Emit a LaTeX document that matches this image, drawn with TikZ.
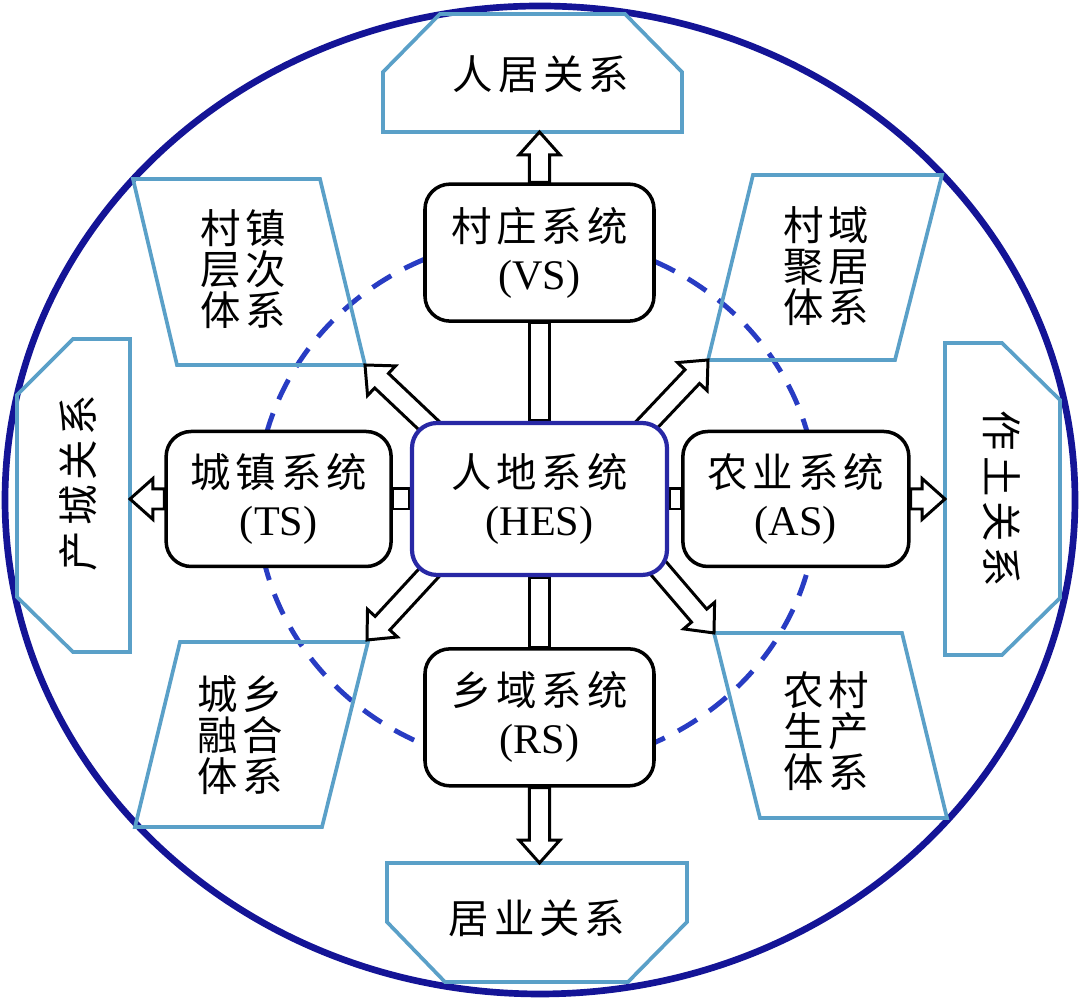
\documentclass[tikz,border=0pt]{standalone}
\usepackage{fontspec}
\setmainfont{Liberation Serif}
\newfontfamily\cjk{Noto Sans CJK SC}[LetterSpace=12]
\usetikzlibrary{positioning,calc,backgrounds}

\definecolor{ringblue}{RGB}{20,20,150}
\definecolor{dashblue}{RGB}{40,60,195}
\definecolor{hesblue}{RGB}{40,40,165}
\definecolor{relblue}{RGB}{90,160,200}

\newcommand{\zh}[1]{{\cjk\fontsize{11.5}{13.7}\selectfont #1}}
\newcommand{\blockarrow}[2]{%
	\path ($(#2)!6.5pt!(#1)$) coordinate (arrhead);
	\draw[blockarr] ($(#1)!2.85pt!90:(#2)$) -- ($(arrhead)!2.85pt!90:(#2)$) -- ($(arrhead)!5.8pt!90:(#2)$) -- (#2)
		-- ($(arrhead)!5.8pt!-90:(#2)$) -- ($(arrhead)!2.85pt!-90:(#2)$) -- ($(#1)!2.85pt!-90:(#2)$) -- cycle;}
\newcommand{\linkbar}[2]{%
	\draw[blockarr] ($(#1)!2.85pt!90:(#2)$) -- ($(#2)!2.85pt!-90:(#1)$) -- ($(#2)!2.85pt!90:(#1)$) -- ($(#1)!2.85pt!-90:(#2)$) -- cycle;}

\begin{document}
\begin{tikzpicture}[x=0.1mm, y=-0.1mm,
	sysbox/.style={draw, fill=white, rounded corners=2.5mm, line width=1pt, minimum width=22.9mm, minimum height=13.7mm, inner sep=0pt, align=center, font=\fontsize{12}{13.7}\selectfont},
	relbox/.style={draw=relblue, line width=1.05pt},
	reltext/.style={font=\cjk\fontsize{11.5}{11.7}\selectfont, align=center, inner sep=0pt},
	blockarr/.style={draw, fill=white, line width=0.85pt}]
	\useasboundingbox (0,0) rectangle (1080,999);
	
	\node[sysbox, draw=hesblue, line width=1.2pt, minimum width=25.5mm, minimum height=15.2mm] (hes) at (539.5,499) {\zh{人地系统}\\(HES)};
	\node[sysbox, above=9.8mm of hes] (village) {\zh{村庄系统}\\(VS)};
	\node[sysbox, below=7mm of hes] (rural) {\zh{乡域系统}\\(RS)};
	\node[sysbox, left=1.7mm of hes, minimum width=22.5mm, minimum height=13.5mm] (town) {\zh{城镇系统}\\(TS)};
	\node[sysbox, right=1.2mm of hes, minimum width=22.6mm, minimum height=13.5mm] (farm) {\zh{农业系统}\\(AS)};
	
	\node[reltext] (renju) at (541,74) {人居关系};
	\node[reltext] (juye) at (537,918) {居业关系};
	\node[reltext, rotate=90] (chancheng) at (78,483) {产城关系};
	\node[reltext, rotate=-90] (zuotu) at (1002,499) {作土关系};
	\node[reltext] (cunzhen) at (243,269) {村镇\\层次\\体系};
	\node[reltext] (cunyu) at (826,266) {村域\\聚居\\体系};
	\node[reltext] (chengxiang) at (240,735) {城乡\\融合\\体系};
	\node[reltext] (nongcun) at (826,731) {农村\\生产\\体系};
	
	\coordinate (renju-b) at (539.5,132);
	\coordinate (juye-t) at (539.5,863);
	\coordinate (chancheng-r) at (130,499);
	\coordinate (zuotu-l) at (945,499);
	\coordinate (cunzhen-c) at (365,365);
	\coordinate (cunyu-c) at (708,360);
	\coordinate (chengxiang-c) at (367,640);
	\coordinate (nongcun-c) at (714,633);
	\coordinate (hes-nw) at (440,436);
	\coordinate (hes-ne) at (637,435);
	\coordinate (hes-sw) at (438,563);
	\coordinate (hes-se) at (648,556);
	
	\begin{pgfonlayer}{background}
		\draw[ringblue, line width=1.9pt] (540,500) ellipse [x radius=535, y radius=494];
		\draw[dashblue, line width=1.4pt, dash pattern=on 2.2mm off 1.5mm] (537,502) ellipse [x radius=280, y radius=265];
		
		\draw[relbox] (383,132) -- (383,72) -- (440,14) -- (625,14) -- (682,72) -- (682,132) -- cycle;
		\draw[relbox] (387,863) -- (687,863) -- (687,922) -- (628,982) -- (445,982) -- (387,922) -- cycle;
		\draw[relbox] (130,339) -- (130,652) -- (73,652) -- (17,597) -- (17,395) -- (73,339) -- cycle;
		\draw[relbox] (945,343) -- (1002,343) -- (1060,400) -- (1060,598) -- (1002,655) -- (945,655) -- cycle;
		\draw[relbox] (133,179) -- (320,179) -- (cunzhen-c) -- (177,365) -- cycle;
		\draw[relbox] (753,175) -- (942,175) -- (895,360) -- (cunyu-c) -- cycle;
		\draw[relbox] (180,642) -- (368,642) -- (322,827) -- (135,827) -- cycle;
		\draw[relbox] (nongcun-c) -- (902,633) -- (947,818) -- (760,818) -- cycle;
		
		\linkbar{village.south}{hes.north}
		\linkbar{hes.south}{rural.north}
		\linkbar{town.east}{hes.west}
		\linkbar{hes.east}{farm.west}
		\blockarrow{village.north}{renju-b}
		\blockarrow{rural.south}{juye-t}
		\blockarrow{town.west}{chancheng-r}
		\blockarrow{farm.east}{zuotu-l}
		\blockarrow{hes-nw}{cunzhen-c}
		\blockarrow{hes-ne}{cunyu-c}
		\blockarrow{hes-sw}{chengxiang-c}
		\blockarrow{hes-se}{nongcun-c}
	\end{pgfonlayer}
\end{tikzpicture}
\end{document}
